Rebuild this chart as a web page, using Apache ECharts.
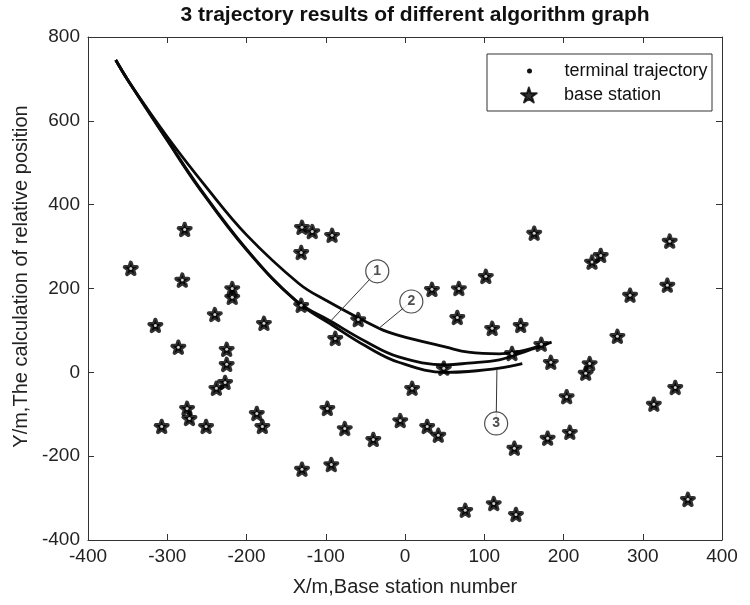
<!DOCTYPE html>
<html>
<head>
<meta charset="utf-8">
<script src="https://cdn.jsdelivr.net/npm/echarts@6/dist/echarts.min.js"></script>
<style>
html,body{margin:0;padding:0;background:#fff;}
#chart{width:750px;height:605px;}
</style>
</head>
<body>
<div id="chart"></div>
<script>
// ---------- data ----------
const titleText = '3 trajectory results of different algorithm graph';
const xName = 'X/m,Base station number';
const yName = 'Y/m,The calculation of relative position';
const seriesNames = ['terminal trajectory', 'base station'];

// base stations
const stationX = [-346,-315,-307,-286,-281,-278,-275,-272,-251,-240,-238,-227,-225,-225,-218,-218,-187,-180,-178,
  -131,-131,-130,-117,-92,-98,-88,-76,-59,-40,-6,-130,-93,9,28,42,34,68,66,49,102,110,146,135,172,184,163,
  204,208,180,138,76,112,140,228,233,236,247,268,284,331,334,314,341,357];
const stationY = [248,112,-129,60,220,341,-86,-110,-129,138,-38,-24,55,19,200,179,-98,-129,117,
  160,286,346,336,327,-86,81,-134,126,-160,-115,-231,-220,-38,-129,-150,198,200,131,10,229,105,112,45,67,24,332,
  -58,-143,-157,-181,-329,-313,-339,-2,21,263,279,86,184,208,313,-76,-36,-303];

// trajectory 1 (middle curve)
const traj1X = [-365,-348,-300,-260,-200,-138,-92,-49,-8,52,80,119,140,160,172];
const traj1Y = [745,692,555,442,294,172,120,73,37,18,22,30,42,55,62];
// trajectory 2 (upper curve)
const traj2X = [-365,-348,-300,-250,-200,-134,-100,-33,-8,52,80,119,140,160,185];
const traj2Y = [745,692,562,440,328,212,172,105,88,60,48,44,48,57,72];
// trajectory 3 (lower curve)
const traj3X = [-365,-348,-300,-260,-200,-138,-92,-49,-8,52,80,119,148];
const traj3Y = [745,692,553,440,292,171,113,62,24,0,2,10,21];

// callout labels (numbered circles) and their leader end points, in data units
const calloutText = ['1','2','3'];
const calloutX = [-35, 8, 115];
const calloutY = [241, 169, -122];
const leaderEndX = [-93, -33, 116];
const leaderEndY = [124, 105, 8];

// axis ticks
const xMin = -400, xMax = 400, xStep = 100;
const yMin = -400, yMax = 800, yStep = 200;

// ---------- build ----------
const zip = (a, b) => a.map((v, i) => [v, b[i]]);
const FONT = 'Liberation Sans, Arial, sans-serif';
const starPath = 'path://M50 0 L61.17 34.63 L97.55 34.55 L68.07 55.87 L79.39 90.45 L50 69 L20.61 90.45 L31.93 55.87 L2.45 34.55 L38.83 34.63 Z';

const lineStyle = {color: '#0a0a0a', width: 2.8};
function trajSeries(xs, ys) {
  return {
    name: seriesNames[0], type: 'line', data: zip(xs, ys), smooth: 0.4,
    showSymbol: false, symbol: 'circle', symbolSize: 4,
    lineStyle: lineStyle, itemStyle: {color: '#111'}, z: 2, silent: true
  };
}

const axisLine = {show: true, onZero: false, lineStyle: {color: '#333', width: 1}};
const tickIn = {show: true, inside: true, length: 6, lineStyle: {color: '#333'}};
const labelStyle = {color: '#222', fontSize: 19, fontFamily: FONT};

const option = {
  animation: false,
  backgroundColor: '#fff',
  title: {
    text: titleText, left: 410, top: 0, textAlign: 'center',
    textStyle: {fontSize: 21, fontWeight: 'bold', color: '#111', fontFamily: FONT}
  },
  legend: [
    {data: [{name: seriesNames[0], icon: 'circle'}], left: 527, top: 62, orient: 'vertical',
     itemWidth: 60, itemHeight: 5, padding: 0,
     textStyle: {fontSize: 18, color: '#111', fontFamily: FONT}},
    {data: [{name: seriesNames[1], icon: starPath}], left: 520, top: 86, orient: 'vertical',
     itemWidth: 60, itemHeight: 15, padding: 0,
     textStyle: {fontSize: 18, color: '#111', fontFamily: FONT}}
  ],
  graphic: [{
    type: 'rect', shape: {x: 487, y: 54, width: 225, height: 57},
    style: {fill: 'none', stroke: '#333', lineWidth: 1}, z: 100
  }],
  grid: {left: 88, right: 28, top: 37, bottom: 65, containLabel: false},
  xAxis: [
    {type: 'value', min: xMin, max: xMax, interval: xStep, position: 'bottom',
     axisLine: axisLine, axisTick: tickIn, splitLine: {show: false},
     axisLabel: Object.assign({margin: 7}, labelStyle),
     name: xName, nameLocation: 'middle', nameGap: 37,
     nameTextStyle: {fontSize: 20, color: '#222', fontFamily: FONT}},
    {type: 'value', min: xMin, max: xMax, interval: xStep, position: 'top',
     axisLine: axisLine, axisTick: tickIn, splitLine: {show: false}, axisLabel: {show: false}}
  ],
  yAxis: [
    {type: 'value', min: yMin, max: yMax, interval: yStep, position: 'left',
     axisLine: axisLine, axisTick: tickIn, splitLine: {show: false},
     axisLabel: Object.assign({margin: 8}, labelStyle),
     name: yName, nameLocation: 'middle', nameGap: 54,
     nameTextStyle: {fontSize: 20, color: '#222', fontFamily: FONT, padding: [0, 0, 0, 24]}},
    {type: 'value', min: yMin, max: yMax, interval: yStep, position: 'right',
     axisLine: axisLine, axisTick: tickIn, splitLine: {show: false}, axisLabel: {show: false}}
  ],
  series: [
    trajSeries(traj1X, traj1Y),
    trajSeries(traj2X, traj2Y),
    trajSeries(traj3X, traj3Y),
    {
      name: seriesNames[1], type: 'scatter', data: zip(stationX, stationY),
      symbol: starPath, symbolSize: 12, symbolKeepAspect: true,
      itemStyle: {color: '#000', borderColor: '#000', borderWidth: 4, borderJoin: 'round'}, z: 3
    },
    {
      name: 'station centre', type: 'scatter', data: zip(stationX, stationY),
      symbol: 'circle', symbolSize: 3, itemStyle: {color: '#fff'}, z: 4, silent: true
    },
    {
      name: 'leaders', type: 'lines', coordinateSystem: 'cartesian2d', silent: true, z: 5,
      data: calloutX.map((x, i) => ({coords: [[x, calloutY[i]], [leaderEndX[i], leaderEndY[i]]]})),
      lineStyle: {color: '#333', width: 1, opacity: 1}
    },
    {
      name: 'callouts', type: 'scatter', silent: true, z: 6,
      data: calloutX.map((x, i) => [x, calloutY[i], calloutText[i]]),
      symbol: 'circle', symbolSize: 23,
      itemStyle: {color: '#fff', borderColor: '#222', borderWidth: 1.2},
      label: {show: true, position: 'inside', formatter: p => p.value[2],
              fontSize: 14, fontWeight: 'bold', color: '#222', fontFamily: FONT}
    }
  ]
};

const chart = echarts.init(document.getElementById('chart'), null, {renderer: 'canvas'});
chart.setOption(option);
</script>
</body>
</html>
